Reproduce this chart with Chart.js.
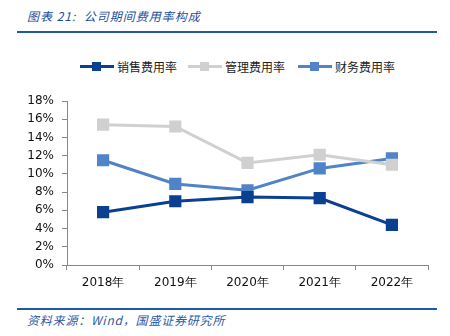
<!DOCTYPE html>
<html>
<head>
<meta charset="utf-8">
<script src="https://cdn.jsdelivr.net/npm/chart.js@4"></script>
<style>
  body { margin: 0; width: 450px; height: 336px; background: #fff; position: relative; overflow: hidden; font-family: "Noto Sans CJK SC", sans-serif; }
  .title { position: absolute; left: 27px; top: 7px; font-size: 12px; font-style: italic; color: #1f4e9a; white-space: pre; letter-spacing: 1px; }
  .rule { position: absolute; left: 17px; width: 420px; height: 2px; background: #1f5aa8; }
  .source { position: absolute; left: 27px; top: 311px; font-size: 12px; font-style: italic; color: #2a5caa; letter-spacing: 0.8px; }
  .legend { position: absolute; top: 58px; left: 0; width: 450px; height: 18px; }
  .item { position: absolute; top: 0; height: 18px; font-size: 12px; color: #222; }
  .item .ln { position: absolute; left: 0; top: 7px; width: 34px; height: 3px; }
  .item .mk { position: absolute; left: 12px; top: 4px; width: 9px; height: 9px; }
  .item .tx { position: absolute; left: 37px; top: 0; white-space: nowrap; line-height: 18px; }
  .wrap { position: absolute; left: 0; top: 40px; width: 450px; height: 260px; }
</style>
</head>
<body>
<div class="title">图表 21:  公司期间费用率构成</div>
<div class="rule" style="top:31px"></div>
<div class="legend" id="legend"></div>
<div class="wrap"><canvas id="chart"></canvas></div>
<div class="rule" style="top:308px"></div>
<div class="source">资料来源：Wind，国盛证券研究所</div>
<script>
const years = ['2018年', '2019年', '2020年', '2021年', '2022年']
const sales = [5.8, 7.0, 7.45, 7.35, 4.4]
const admin = [15.4, 15.2, 11.2, 12.1, 11.0]
const finance = [11.5, 8.9, 8.2, 10.6, 11.7]
const seriesNames = ['销售费用率', '管理费用率', '财务费用率']
const seriesColors = ['#0b3f90', '#d0d0d0', '#5083c8']
const legendX = [80, 188, 298]

function ds(label, data, color) {
    return {
        label: label,
        data: data,
        borderColor: color,
        backgroundColor: color,
        borderWidth: 3,
        pointStyle: 'rect',
        pointRadius: 6.5,
        pointHoverRadius: 6.5,
        tension: 0
    }
}

// html legend: line with square marker
var legend = document.getElementById('legend')
seriesNames.forEach(function (name, i) {
    var el = document.createElement('div')
    el.className = 'item'
    el.style.left = legendX[i] + 'px'
    el.innerHTML = '<span class="ln" style="background:' + seriesColors[i] + '"></span>' +
        '<span class="mk" style="background:' + seriesColors[i] + '"></span>' +
        '<span class="tx">' + name + '</span>'
    legend.appendChild(el)
})

new Chart(document.getElementById('chart').getContext('2d'), {
    type: 'line',
    data: {
        labels: years,
        datasets: [
            ds(seriesNames[0], sales, seriesColors[0]),
            ds(seriesNames[1], admin, seriesColors[1]),
            ds(seriesNames[2], finance, seriesColors[2])
        ]
    },
    options: {
        responsive: true,
        maintainAspectRatio: false,
        animation: false,
        layout: { padding: { top: 61, right: 22, left: 0, bottom: 0 } },
        plugins: { legend: { display: false }, tooltip: { enabled: false } },
        scales: {
            x: {
                offset: true,
                grid: { display: true, drawOnChartArea: false, drawTicks: true, tickLength: 5, offset: true, color: '#888' },
                border: { color: '#888', width: 1 },
                ticks: { color: '#111', font: { family: 'DejaVu Sans', size: 12 }, padding: 6, maxRotation: 0 },
                afterFit: function (s) { s.height = 35 }
            },
            y: {
                min: 0,
                max: 18,
                ticks: {
                    stepSize: 2,
                    color: '#111',
                    font: { family: 'DejaVu Sans', size: 12 },
                    padding: 8,
                    callback: function (v) { return v + '%' }
                },
                grid: { display: true, drawOnChartArea: false, drawTicks: true, tickLength: 5, color: '#888' },
                border: { color: '#888', width: 1 },
                afterFit: function (s) { s.width = 67 }
            }
        }
    }
})
</script>
</body>
</html>
